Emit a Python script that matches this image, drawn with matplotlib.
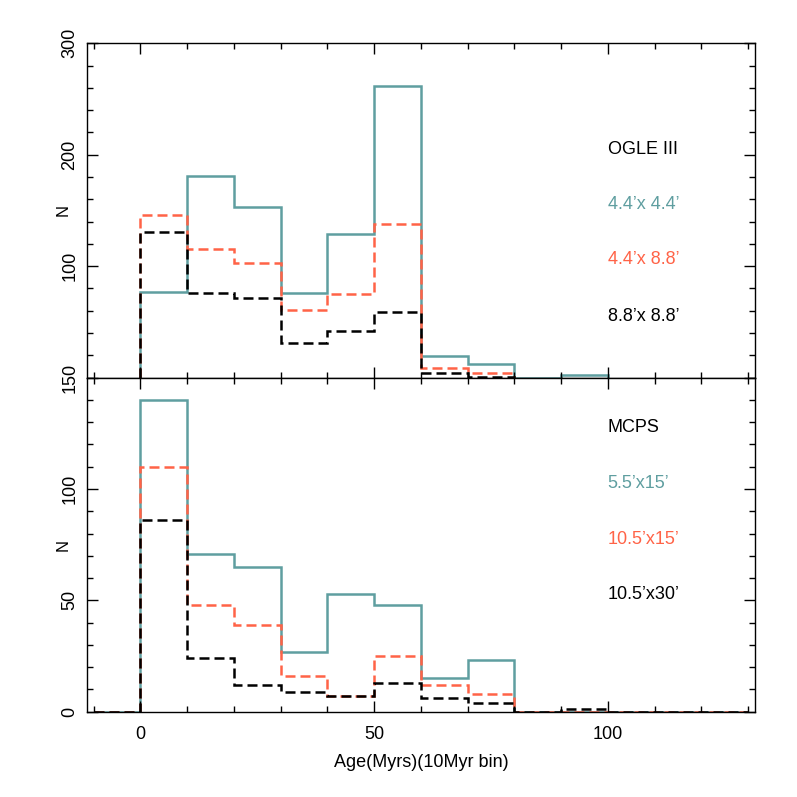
import numpy as np
import matplotlib
matplotlib.use("Agg")
import matplotlib.pyplot as plt
from matplotlib.ticker import MultipleLocator

plt.rcParams['font.family'] = ['Liberation Sans', 'DejaVu Sans']

###########################################################
###              Data
###########################################################
# OGLE III (top panel), 10 Myr bins starting at 0
ogle_edges_teal = np.arange(0, 101, 10)
ogle_teal = [77, 181, 153, 76, 129, 262, 19, 12, 0, 2]          # 4.4'x 4.4'
ogle_edges_short = np.arange(0, 81, 10)
ogle_red = [146, 115, 103, 61, 75, 138, 9, 4]                  # 4.4'x 8.8'
ogle_black = [131, 76, 71, 31, 42, 59, 4, 1]                   # 8.8'x 8.8'

# MCPS (bottom panel), 10 Myr bins from -10 to 130
mcps_edges = np.arange(-10, 131, 10)
mcps_teal = [0, 140, 71, 65, 27, 53, 48, 15, 23, 0, 0, 0, 0, 0]   # 5.5'x15'
mcps_red = [0, 110, 48, 39, 16, 7, 25, 12, 8, 0, 0, 0, 0, 0]      # 10.5'x15'
mcps_black = [0, 86, 24, 12, 9, 7, 13, 6, 4, 0, 1, 0, 0, 0]       # 10.5'x30'

ogle_labels = ["OGLE III", "4.4\u2019x 4.4\u2019", "4.4\u2019x 8.8\u2019", "8.8\u2019x 8.8\u2019"]
ogle_label_y = [205, 155, 106, 55]
mcps_labels = ["MCPS", "5.5\u2019x15\u2019", "10.5\u2019x15\u2019", "10.5\u2019x30\u2019"]
mcps_label_y = [127.5, 102.5, 77.5, 52.5]

TEAL = '#5F9EA0'
RED = '#FF6347'
LW = 1.8
DASH = (4, 2)

###########################################################
###              Plot
###########################################################
fig = plt.figure(figsize=(7.97, 7.97), dpi=100)
ax1 = fig.add_axes([0.1088, 0.5262, 0.8385, 0.4195])
ax2 = fig.add_axes([0.1088, 0.1070, 0.8385, 0.4192], sharex=ax1)

ax1.stairs(ogle_teal, ogle_edges_teal, color=TEAL, lw=LW)
ax1.stairs(ogle_red, ogle_edges_short, color=RED, lw=LW, linestyle=(0, DASH))
ax1.stairs(ogle_black, ogle_edges_short, color='black', lw=LW, linestyle=(0, DASH))

ax2.stairs(mcps_teal, mcps_edges, color=TEAL, lw=LW)
ax2.stairs(mcps_red, mcps_edges, color=RED, lw=LW, linestyle=(0, DASH))
ax2.stairs(mcps_black, mcps_edges, color='black', lw=LW, linestyle=(0, DASH))

colors = ['black', TEAL, RED, 'black']
for txt, yy, c in zip(ogle_labels, ogle_label_y, colors):
    ax1.text(100, yy, txt, color=c, fontsize=13, va='center', ha='left')
for txt, yy, c in zip(mcps_labels, mcps_label_y, colors):
    ax2.text(100, yy, txt, color=c, fontsize=13, va='center', ha='left')

ax1.set_xlim(-11.5, 131.5)
ax1.set_ylim(0, 300)
ax2.set_ylim(0, 150)

for ax in (ax1, ax2):
    ax.xaxis.set_major_locator(MultipleLocator(50))
    ax.xaxis.set_minor_locator(MultipleLocator(10))
    ax.tick_params(which='both', direction='in', top=True, right=True, width=1.0)
    ax.tick_params(which='major', length=8)
    ax.tick_params(which='minor', length=4.5)
    ax.tick_params(axis='y', labelsize=13, pad=6)
    ax.tick_params(axis='x', labelsize=13, pad=10)
    for sp in ax.spines.values():
        sp.set_linewidth(1.0)
    ax.set_ylabel('N', fontsize=12)
    ax.yaxis.set_label_coords(-0.024, 0.5)

ax1.yaxis.set_major_locator(MultipleLocator(100))
ax1.yaxis.set_minor_locator(MultipleLocator(20))
ax1.set_yticks([100, 200, 300])
ax2.yaxis.set_major_locator(MultipleLocator(50))
ax2.yaxis.set_minor_locator(MultipleLocator(10))

plt.setp(ax1.get_xticklabels(), visible=False)
for ax in (ax1, ax2):
    plt.setp(ax.get_yticklabels(), rotation=90, va='center')

ax2.set_xlabel('Age(Myrs)(10Myr bin)', fontsize=13, labelpad=8)

fig.savefig('out.png', dpi=100)
